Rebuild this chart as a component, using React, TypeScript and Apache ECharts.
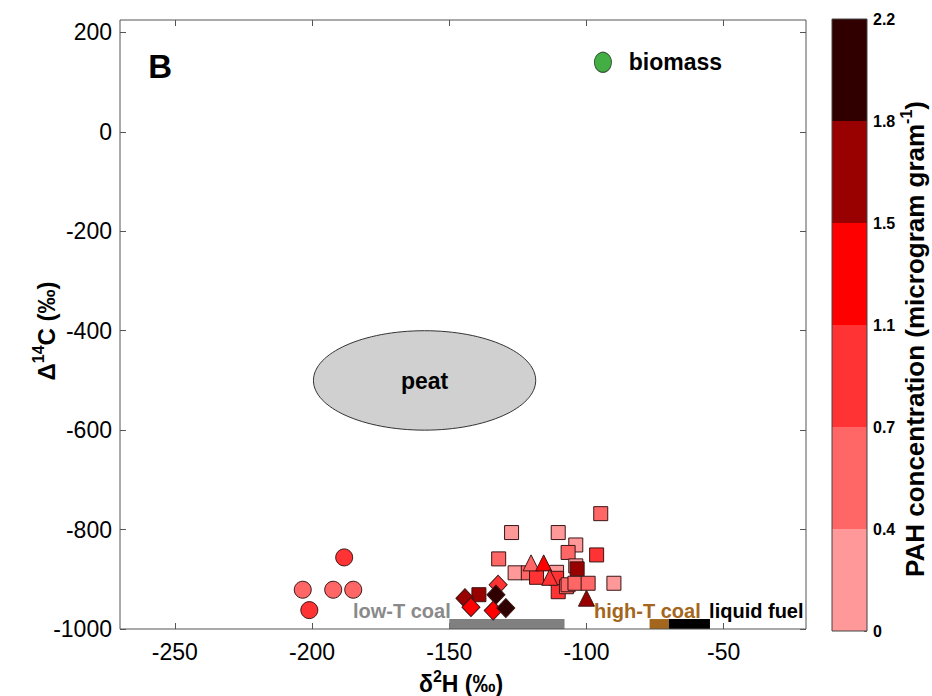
import React, { useEffect, useRef } from 'react';
import * as echarts from 'echarts';

// ---- axes ----
const xTicks = [-250, -200, -150, -100, -50];
const yTicks = [-1000, -800, -600, -400, -200, 0, 200];
const xRange = [-270, -20];
const yRange = [-1000, 225];

// ---- colorbar ----
const cbTickLabels = ['0', '0.4', '0.7', '1.1', '1.5', '1.8', '2.2'];
const cbBreaks = [0, 0.4, 0.7, 1.1, 1.5, 1.8, 2.2];
const cbSegments = [1, 1, 1, 1, 1, 1];

// ---- samples: [δ2H, Δ14C, PAH concentration] ----
const squares = [
  [-127.3, -806, 0.2],
  [-110.3, -806, 0.2],
  [-94.8, -768, 0.55],
  [-103.9, -831, 0.2],
  [-106.7, -846, 0.55],
  [-96.3, -851, 0.9],
  [-132, -859, 0.55],
  [-126, -887, 0.2],
  [-121.2, -887, 0.55],
  [-110.9, -886, 0.2],
  [-118.2, -896, 0.9],
  [-110.9, -898, 0.9],
  [-110.3, -925, 0.9],
  [-107.3, -915, 0.55],
  [-106.7, -911, 0.55],
  [-104.2, -908, 0.55],
  [-103.9, -873, 0.2],
  [-103.4, -879, 1.65],
  [-99.4, -908, 0.55],
  [-90, -908, 0.2],
  [-139.2, -931, 1.65],
];
const triangles = [
  [-120.2, -867, 0.55],
  [-115.6, -867, 1.3],
  [-113.4, -896, 0.9],
  [-100, -938, 1.65],
];
const diamonds = [
  [-144.3, -938, 1.65],
  [-142.1, -956, 1.3],
  [-132.2, -911, 0.9],
  [-133, -931, 2.0],
  [-134, -963, 1.3],
  [-129.4, -958, 2.0],
];
const circles = [
  [-203.4, -921, 0.55],
  [-201, -962, 0.9],
  [-192.3, -921, 0.55],
  [-188.3, -856, 0.9],
  [-185, -921, 0.55],
];

// ---- source end-members ----
const biomass = [[-94, 140]];
const peat = [[-159, -500, 40.5, 100]]; // center x, center y, half-width, half-height
const sourceRanges = [
  [-150, -108, -1000, -980],
  [-77, -70, -1000, -980],
  [-70, -55, -1000, -980],
];
const annoTexts = ['B', 'biomass', 'low-T coal', 'high-T coal', 'liquid fuel'];
const annoX = [-255.4, -67.6, -167.3, -77.8, -38.1];
const annoY = [131.5, 141.5, -964, -964, -964];

// ---- styles ----
const FONT = '"Liberation Sans", Arial, Helvetica, sans-serif';
const PAL = ['#ff9999', '#ff6666', '#ff3333', '#ff0000', '#990000', '#300000'];
const sourceColors = ['#808080', '#a3661c', '#000000'];
const annoFonts = [`bold 33px ${FONT}`, `bold 23px ${FONT}`, `bold 20px ${FONT}`, `bold 20px ${FONT}`, `bold 20px ${FONT}`];
const annoColors = ['#000', '#000', '#8a8a8a', '#a3661c', '#000'];
const AXIS_COLOR = '#555';

export default function App() {
  const ref = useRef<HTMLDivElement>(null);

  useEffect(() => {
    if (!ref.current) return;
    const chart = echarts.init(ref.current, undefined, { renderer: 'svg' });

    const markerStyle = { borderColor: '#3a1515', borderWidth: 1, opacity: 1 };
    const axisTickStyle = { show: true, inside: true, length: 6, lineStyle: { color: AXIS_COLOR, width: 1 } };
    const noLine = { show: false, onZero: false };

    const option: any = {
      animation: false,
      textStyle: { fontFamily: FONT },
      grid: [
        { left: 120, top: 20, width: 686, height: 609, show: true, borderColor: AXIS_COLOR, borderWidth: 1, z: 10 },
        { left: 832, top: 19, width: 35, height: 612, show: true, borderColor: '#444', borderWidth: 1, z: 10 },
      ],
      xAxis: [
        {
          type: 'value', gridIndex: 0, min: xRange[0], max: xRange[1], position: 'bottom',
          splitLine: { show: false }, axisLine: noLine,
          axisTick: { ...axisTickStyle, customValues: xTicks },
          axisLabel: { customValues: xTicks, color: '#000', fontSize: 23, margin: 11, fontFamily: FONT, formatter: (v: number) => String(v) },
        },
        {
          type: 'value', gridIndex: 0, min: xRange[0], max: xRange[1], position: 'top',
          splitLine: { show: false }, axisLine: noLine,
          axisTick: { ...axisTickStyle, customValues: xTicks },
          axisLabel: { show: false },
        },
        { type: 'category', gridIndex: 1, data: ['cb'], show: false, boundaryGap: true, axisLine: noLine },
      ],
      yAxis: [
        {
          type: 'value', gridIndex: 0, min: yRange[0], max: yRange[1], position: 'left',
          splitLine: { show: false }, axisLine: noLine,
          axisTick: { ...axisTickStyle, customValues: yTicks },
          axisLabel: { customValues: yTicks, color: '#000', fontSize: 23, margin: 8, fontFamily: FONT, formatter: (v: number) => String(v) },
        },
        {
          type: 'value', gridIndex: 0, min: yRange[0], max: yRange[1], position: 'right',
          splitLine: { show: false }, axisLine: noLine,
          axisTick: { ...axisTickStyle, customValues: yTicks },
          axisLabel: { show: false },
        },
        {
          type: 'value', gridIndex: 1, min: 0, max: 6, interval: 1, position: 'right',
          splitLine: { show: false }, axisLine: noLine,
          axisTick: { show: true, inside: true, length: 3, lineStyle: { color: '#666' } },
          axisLabel: {
            color: '#000', fontSize: 16, fontWeight: 'bold', margin: 6, fontFamily: FONT,
            formatter: (v: number) => cbTickLabels[Math.round(v)],
          },
        },
      ],
      visualMap: {
        type: 'piecewise', show: false, dimension: 2, seriesIndex: [0, 1, 2, 3],
        pieces: PAL.map((c, i) => (i === PAL.length - 1
          ? { gte: cbBreaks[i], lte: cbBreaks[i + 1], color: c }
          : { gte: cbBreaks[i], lt: cbBreaks[i + 1], color: c })),
      },
      graphic: [
        {
          type: 'text', x: 44, y: 331, rotation: Math.PI / 2,
          style: {
            text: '{a|Δ}{s|14}{a|C (‰)}', align: 'center', verticalAlign: 'middle',
            rich: {
              a: { fontSize: 24, fontWeight: 'bold', fontFamily: FONT, fill: '#000', verticalAlign: 'bottom' },
              s: { fontSize: 16, fontWeight: 'bold', fontFamily: FONT, fill: '#000', verticalAlign: 'bottom', padding: [0, 0, 12, 0] },
            },
          },
        },
        {
          type: 'text', x: 461, y: 682,
          style: {
            text: '{a|δ}{s|2}{a|H (‰)}', align: 'center', verticalAlign: 'middle',
            rich: {
              a: { fontSize: 23, fontWeight: 'bold', fontFamily: FONT, fill: '#000', verticalAlign: 'bottom' },
              s: { fontSize: 16, fontWeight: 'bold', fontFamily: FONT, fill: '#000', verticalAlign: 'bottom', padding: [0, 0, 11, 0] },
            },
          },
        },
        {
          type: 'text', x: 913, y: 339, rotation: Math.PI / 2,
          style: {
            text: '{a|PAH concentration (microgram gram}{s|-1}{a|)}', align: 'center', verticalAlign: 'middle',
            rich: {
              a: { fontSize: 26, fontWeight: 'bold', fontFamily: FONT, fill: '#000', verticalAlign: 'bottom' },
              s: { fontSize: 16, fontWeight: 'bold', fontFamily: FONT, fill: '#000', verticalAlign: 'bottom', padding: [0, 0, 13, 0] },
            },
          },
        },
      ],
      series: [
        { type: 'scatter', name: 'squares', data: squares, symbol: 'rect', symbolSize: 14, itemStyle: markerStyle, z: 4 },
        { type: 'scatter', name: 'triangles', data: triangles, symbol: 'triangle', symbolSize: 16, itemStyle: markerStyle, z: 5 },
        { type: 'scatter', name: 'diamonds', data: diamonds, symbol: 'diamond', symbolSize: [18, 19], itemStyle: markerStyle, z: 5 },
        { type: 'scatter', name: 'circles', data: circles, symbol: 'circle', symbolSize: 17, itemStyle: markerStyle, z: 5 },
        {
          type: 'scatter', name: 'biomass', data: biomass, symbol: 'circle', symbolSize: [17, 20],
          itemStyle: { color: '#149a14', borderColor: '#1a331a', borderWidth: 1 }, z: 5,
        },
        {
          type: 'custom', name: 'peat', data: peat, z: 3,
          renderItem: (params: any, api: any) => {
            const c = api.coord([api.value(0), api.value(1)]);
            const s = api.size([api.value(2), api.value(3)]);
            return {
              type: 'group',
              children: [
                { type: 'ellipse', shape: { cx: c[0], cy: c[1], rx: s[0], ry: s[1] }, style: { fill: '#d0d0d0', stroke: '#333', lineWidth: 1 } },
                { type: 'text', x: c[0], y: c[1] + 1, style: { text: 'peat', font: `bold 23px ${FONT}`, fill: '#000', align: 'center', verticalAlign: 'middle' } },
              ],
            };
          },
        },
        {
          type: 'custom', name: 'sources', data: sourceRanges, z: 3,
          renderItem: (params: any, api: any) => {
            const p0 = api.coord([api.value(0), api.value(3)]);
            const p1 = api.coord([api.value(1), api.value(2)]);
            return {
              type: 'rect',
              shape: { x: p0[0], y: p0[1], width: p1[0] - p0[0], height: p1[1] - p0[1] },
              style: { fill: sourceColors[params.dataIndex] },
            };
          },
        },
        {
          type: 'custom', name: 'annotations', data: annoTexts.map((t, i) => [annoX[i], annoY[i], i]), z: 6,
          renderItem: (params: any, api: any) => {
            const i = api.value(2);
            const p = api.coord([api.value(0), api.value(1)]);
            return {
              type: 'text', x: p[0], y: p[1],
              style: { text: annoTexts[i], font: annoFonts[i], fill: annoColors[i], align: 'center', verticalAlign: 'middle' },
            };
          },
        },
        ...cbSegments.map((v, i) => ({
          type: 'bar', name: 'cb' + i, xAxisIndex: 2, yAxisIndex: 2, stack: 'cb',
          data: [v], barWidth: '100%', itemStyle: { color: PAL[i] }, z: 2,
        })),
      ],
    };

    chart.setOption(option);
    return () => chart.dispose();
  }, []);

  return <div ref={ref} style={{ position: 'absolute', left: 0, top: 0, width: 932, height: 696 }} />;
}
